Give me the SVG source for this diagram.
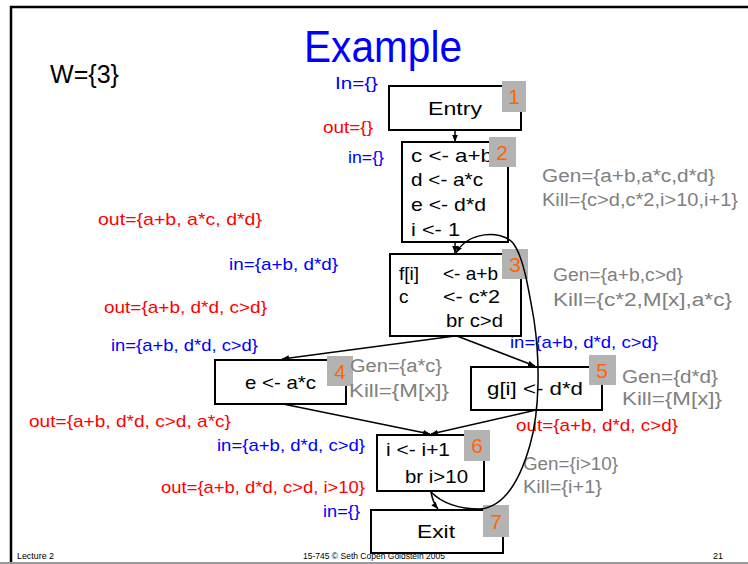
<svg xmlns="http://www.w3.org/2000/svg" width="748" height="564" viewBox="0 0 748 564">
<defs>
<marker id="ah" viewBox="0 0 10 10" refX="10" refY="5" markerWidth="7" markerHeight="7" markerUnits="userSpaceOnUse" orient="auto">
<path d="M0,1 L10,5 L0,9 z" fill="#000"/>
</marker>
</defs>
<style>
text{font-family:"Liberation Sans","DejaVu Sans",sans-serif;}
.box{fill:#fff;stroke:#000;stroke-width:2;}
.lbl{fill:#b3b3b3;stroke:none;}
.num{fill:#ff6600;font-size:21px;text-anchor:middle;}
.code{fill:#000;font-size:19px;}
.blue{fill:#0000ff;font-size:17px;}
.red{fill:#ff0000;font-size:17px;}
.gray{fill:#808080;font-size:18px;}
.edge{fill:none;stroke:#000;stroke-width:1.5;marker-end:url(#ah);}
.foot{fill:#000;font-size:9px;}
</style>
<rect width="748" height="564" fill="#fff"/>
<path d="M11,564 V7 H748" fill="none" stroke="#000" stroke-width="2.5"/>
<line x1="0" y1="563" x2="748" y2="563" stroke="#999" stroke-width="2"/>

<text x="304" y="62" fill="#0000ff" font-size="45" textLength="158" lengthAdjust="spacingAndGlyphs">Example</text>
<text x="50" y="83" fill="#000" font-size="25" textLength="69" lengthAdjust="spacingAndGlyphs">W={3}</text>

<g id="labels-left">
<text class="blue" x="335" y="89" textLength="43" lengthAdjust="spacingAndGlyphs">In={}</text>
<text class="red" x="323" y="133" textLength="50" lengthAdjust="spacingAndGlyphs">out={}</text>
<text class="blue" x="348" y="163" textLength="36" lengthAdjust="spacingAndGlyphs">in={}</text>
<text class="red" x="98" y="225" textLength="164" lengthAdjust="spacingAndGlyphs">out={a+b, a*c, d*d}</text>
<text class="blue" x="229" y="270" textLength="109" lengthAdjust="spacingAndGlyphs">in={a+b, d*d}</text>
<text class="red" x="104" y="313" textLength="163" lengthAdjust="spacingAndGlyphs">out={a+b, d*d, c&gt;d}</text>
<text class="blue" x="111" y="351" textLength="147" lengthAdjust="spacingAndGlyphs">in={a+b, d*d, c&gt;d}</text>
<text class="blue" x="510" y="348" textLength="148" lengthAdjust="spacingAndGlyphs">in={a+b, d*d, c&gt;d}</text>
<text class="red" x="29" y="427" textLength="202" lengthAdjust="spacingAndGlyphs">out={a+b, d*d, c&gt;d, a*c}</text>
<text class="red" x="516" y="431" textLength="162" lengthAdjust="spacingAndGlyphs">out={a+b, d*d, c&gt;d}</text>
<text class="blue" x="217" y="451" textLength="148" lengthAdjust="spacingAndGlyphs">in={a+b, d*d, c&gt;d}</text>
<text class="red" x="161" y="493" textLength="204" lengthAdjust="spacingAndGlyphs">out={a+b, d*d, c&gt;d, i&gt;10}</text>
<text class="blue" x="323" y="517" textLength="37" lengthAdjust="spacingAndGlyphs">in={}</text>
</g>

<g id="genkill">
<text class="gray" x="542" y="182" textLength="173" lengthAdjust="spacingAndGlyphs">Gen={a+b,a*c,d*d}</text>
<text class="gray" x="542" y="206" textLength="196" lengthAdjust="spacingAndGlyphs">Kill={c&gt;d,c*2,i&gt;10,i+1}</text>
<text class="gray" x="553" y="281" textLength="130" lengthAdjust="spacingAndGlyphs">Gen={a+b,c&gt;d}</text>
<text class="gray" x="553" y="306" textLength="179" lengthAdjust="spacingAndGlyphs">Kill={c*2,M[x],a*c}</text>
<text class="gray" x="622" y="383" textLength="96" lengthAdjust="spacingAndGlyphs">Gen={d*d}</text>
<text class="gray" x="622" y="405" textLength="100" lengthAdjust="spacingAndGlyphs">Kill={M[x]}</text>
<text class="gray" x="523" y="470" textLength="95" lengthAdjust="spacingAndGlyphs">Gen={i&gt;10}</text>
<text class="gray" x="523" y="493" textLength="79" lengthAdjust="spacingAndGlyphs">Kill={i+1}</text>
</g>

<g id="n1">
<rect class="box" x="389" y="86" width="132" height="44"/>
<text class="code" x="428" y="115" font-size="21" textLength="54" lengthAdjust="spacingAndGlyphs">Entry</text>
<rect class="lbl" x="502" y="81" width="24" height="31"/>
<text class="num" x="514" y="104">1</text>
</g>

<g id="n2">
<rect class="box" x="402" y="142" width="106" height="100"/>
<text class="code" x="411" y="162" textLength="82" lengthAdjust="spacingAndGlyphs">c &lt;- a+b</text>
<text class="code" x="411" y="186" textLength="72" lengthAdjust="spacingAndGlyphs">d &lt;- a*c</text>
<text class="code" x="411" y="211" textLength="75" lengthAdjust="spacingAndGlyphs">e &lt;- d*d</text>
<text class="code" x="411" y="236" textLength="49" lengthAdjust="spacingAndGlyphs">i  &lt;- 1</text>
<rect class="lbl" x="489" y="137" width="27" height="30"/>
<text class="num" x="502" y="160">2</text>
</g>

<g id="n3">
<rect class="box" x="390" y="254" width="131" height="82"/>
<text class="code" x="399" y="280">f[i]</text>
<text class="code" x="443" y="280" textLength="55" lengthAdjust="spacingAndGlyphs">&lt;- a+b</text>
<text class="code" x="399" y="303">c</text>
<text class="code" x="443" y="303" textLength="57" lengthAdjust="spacingAndGlyphs">&lt;- c*2</text>
<text class="code" x="446" y="327" textLength="57" lengthAdjust="spacingAndGlyphs">br c&gt;d</text>
<rect class="lbl" x="502" y="249" width="26" height="30"/>
<text class="num" x="515" y="272">3</text>
</g>

<g id="n4">
<rect class="box" x="215" y="360" width="131" height="44"/>
<text class="code" x="245" y="389" textLength="71" lengthAdjust="spacingAndGlyphs">e &lt;- a*c</text>
<rect class="lbl" x="327" y="356" width="26" height="30"/>
<text class="num" x="340" y="379">4</text>
<text class="gray" x="350" y="372" textLength="92" lengthAdjust="spacingAndGlyphs">Gen={a*c}</text>
<text class="gray" x="349" y="397" textLength="100" lengthAdjust="spacingAndGlyphs">Kill={M[x]}</text>
</g>

<g id="n5">
<rect class="box" x="471" y="367" width="131" height="43"/>
<text class="code" x="487" y="395" textLength="96" lengthAdjust="spacingAndGlyphs">g[i] &lt;- d*d</text>
<rect class="lbl" x="589" y="355" width="27" height="30"/>
<text class="num" x="602" y="378">5</text>
</g>

<g id="n6">
<rect class="box" x="377" y="435" width="107" height="56"/>
<text class="code" x="386" y="456" textLength="64" lengthAdjust="spacingAndGlyphs">i  &lt;- i+1</text>
<text class="code" x="405" y="483" textLength="63" lengthAdjust="spacingAndGlyphs">br i&gt;10</text>
<rect class="lbl" x="464" y="430" width="26" height="31"/>
<text class="num" x="477" y="453">6</text>
</g>

<g id="n7">
<rect class="box" x="371" y="510" width="132" height="43"/>
<text class="code" x="417" y="538" font-size="23" textLength="38" lengthAdjust="spacingAndGlyphs">Exit</text>
<rect class="lbl" x="483" y="505" width="26" height="32"/>
<text class="num" x="496" y="529">7</text>
</g>

<g id="edges">
<path class="edge" d="M455,130 V142"/>
<path class="edge" d="M455,242 V253"/>
<path class="edge" d="M455,336 L282,359"/>
<path class="edge" d="M457,336 L535,366"/>
<path class="edge" d="M283,404 L430,434"/>
<path class="edge" d="M536,410 L431,434"/>
<path class="edge" d="M431,492 Q433,503 438,509"/>
<path class="edge" d="M431,492 Q448,509 480,509 C505,507 520,480 530,445 C540,410 540,360 534,320 C528,285 523,256 513,243 C500,229 468,232 456,253"/>
</g>

<g id="footer">
<text class="foot" x="17" y="559" textLength="37" lengthAdjust="spacingAndGlyphs">Lecture 2</text>
<text class="foot" x="303" y="559" textLength="142" lengthAdjust="spacingAndGlyphs">15-745  © Seth Copen Goldstein 2005</text>
<text class="foot" x="713" y="559">21</text>
</g>
</svg>
